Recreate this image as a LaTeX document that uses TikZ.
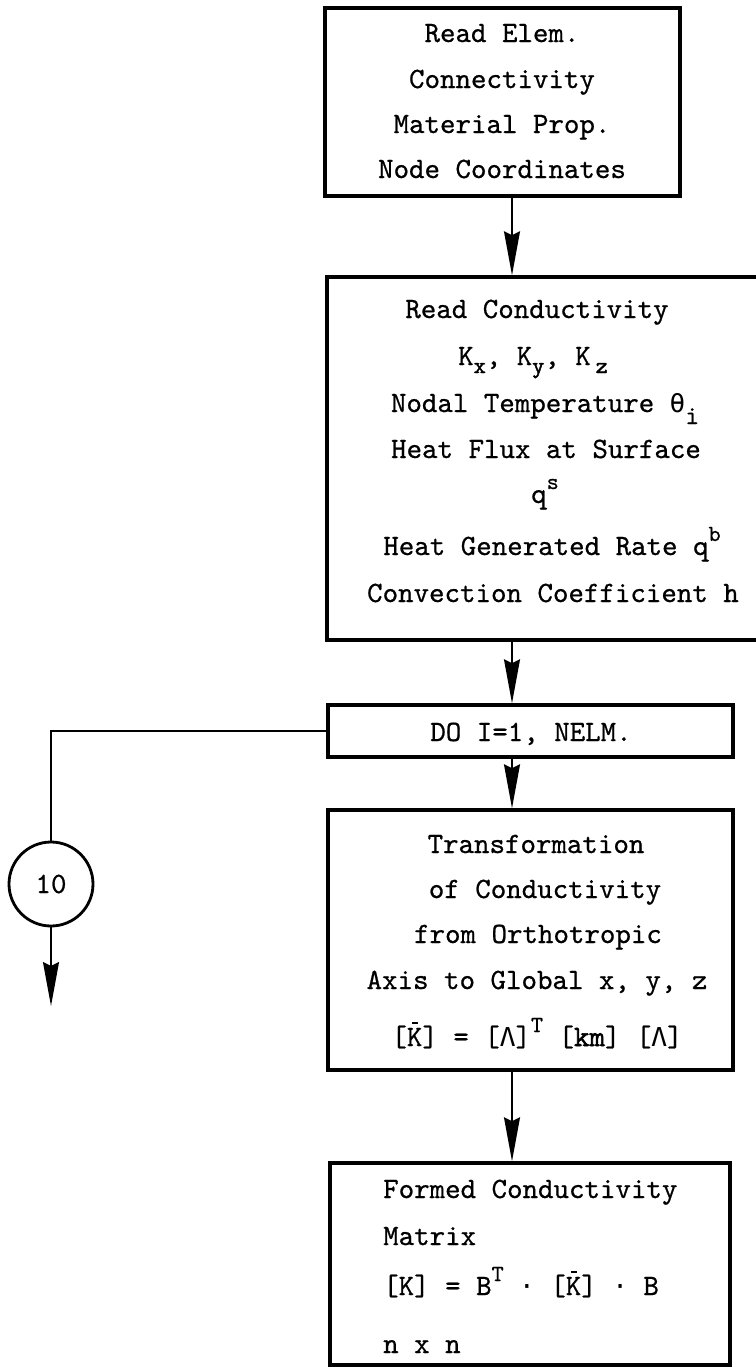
\documentclass[tikz,border=0pt]{standalone}
\usepackage{fontspec}
\newfontfamily\dv{DejaVu Sans Mono}
\newfontfamily\twf[FakeBold=0.7]{lmmono10-regular.otf}
\newfontfamily\twb[FakeBold=2]{lmmono10-regular.otf}
\usetikzlibrary{arrows.meta}
\newcommand\tw{\fontsize{29.5}{46}\selectfont\twf}
\newcommand\sbx[1]{\raisebox{-8pt}{\fontsize{23}{23}\selectfont\twb #1}}
\newcommand\spx[1]{\raisebox{14pt}{\fontsize{23}{23}\selectfont #1}}
\newcommand\gk[1]{{\dv\fontsize{26}{26}\selectfont #1}}
\newcommand\kbar{\rlap{\raisebox{22pt}{\hspace{5pt}\rule{6pt}{1.6pt}}}K}
\tikzset{
  box/.style={draw, line width=3.5pt, inner sep=0pt},
  txt/.style={anchor=base, inner sep=0pt, font=\tw},
  ltxt/.style={anchor=base west, inner sep=0pt, font=\tw},
  conn/.style={line width=1.8pt},
  arr/.style={line width=1.8pt, -{Stealth[length=44pt,width=16pt,inset=4pt]}}
}
\begin{document}
\begin{tikzpicture}[x=1pt,y=-1pt]
\useasboundingbox (0,0) rectangle (755,1368);
% boxes
\node[box, minimum width=355pt, minimum height=188pt] (b1) at (502.5,102) {};
\node[box, minimum width=431pt, minimum height=363pt] (b2) at (542.5,458.5) {};
\node[box, minimum width=405pt, minimum height=52pt] (do) at (530.5,731) {};
\node[box, minimum width=405pt, minimum height=260pt] (b3) at (530.5,940) {};
\node[box, minimum width=400pt, minimum height=202pt] (b4) at (530,1264) {};
\node[draw, circle, line width=2.8pt, minimum size=84pt, inner sep=0pt, font=\tw] (c10) at (51,884) {10};
\coordinate (sp) at (512,0);
\coordinate (end) at (51,1006);
% box 1 text
\node[txt] (t11) at (502,42) {Read Elem.};
\node[txt] (t12) at (502,88) {Connectivity};
\node[txt] (t13) at (502,133) {Material Prop.};
\node[txt] (t14) at (502,178) {Node Coordinates};
% box 2 text
\node[txt] (t21) at (537,318) {Read Conductivity};
\node[txt] (t22) at (533,365) {K\sbx{x}, K\sbx{y}, K\,\sbx{z}};
\node[txt] (t23) at (545,412) {Nodal Temperature \gk{θ}\raisebox{-12pt}{\fontsize{26}{26}\selectfont i}};
\node[txt] (t24) at (546,458) {Heat Flux at Surface};
\node[txt] (t25) at (545,503) {q\spx{s}};
\node[txt] (t26) at (552,555) {Heat Generated Rate q\spx{b}};
\node[txt] (t27) at (553,602) {Convection Coefficient h};
% DO
\node[txt] (t31) at (531,741) {DO I=1, NELM.};
% box 3 text
\node[txt] (t41) at (536,853) {Transformation};
\node[txt] (t42) at (545,898) {of Conductivity};
\node[txt] (t43) at (538,943) {from Orthotropic};
\node[txt] (t44) at (537,989) {Axis to Global x, y, z};
\node[txt] (t45) at (537,1046) {[\kbar] = [\gk{Λ}]\spx{T} [{\twb km}] [\gk{Λ}]};
% box 4 text
\node[ltxt] (t51) at (383,1198) {Formed Conductivity};
\node[ltxt] (t52) at (383,1245) {Matrix};
\node[ltxt] (t53) at (383,1295) {[K] = B\spx{T} {\twb\gk{·}} [\kbar] {\twb\gk{·}} B};
\node[ltxt] (t54) at (383,1353) {n x n};
% connectors
\draw[arr] (b1.south -| sp) -- (b2.north -| sp);
\draw[arr] (b2.south -| sp) -- (do.north -| sp);
\draw[arr] (do.south -| sp) -- (b3.north -| sp);
\draw[arr] (b3.south -| sp) -- (b4.north -| sp);
\draw[conn] (do.west) -- (do.west -| c10) -- (c10.north);
\draw[arr] (c10.south) -- (end);
\end{tikzpicture}
\end{document}
